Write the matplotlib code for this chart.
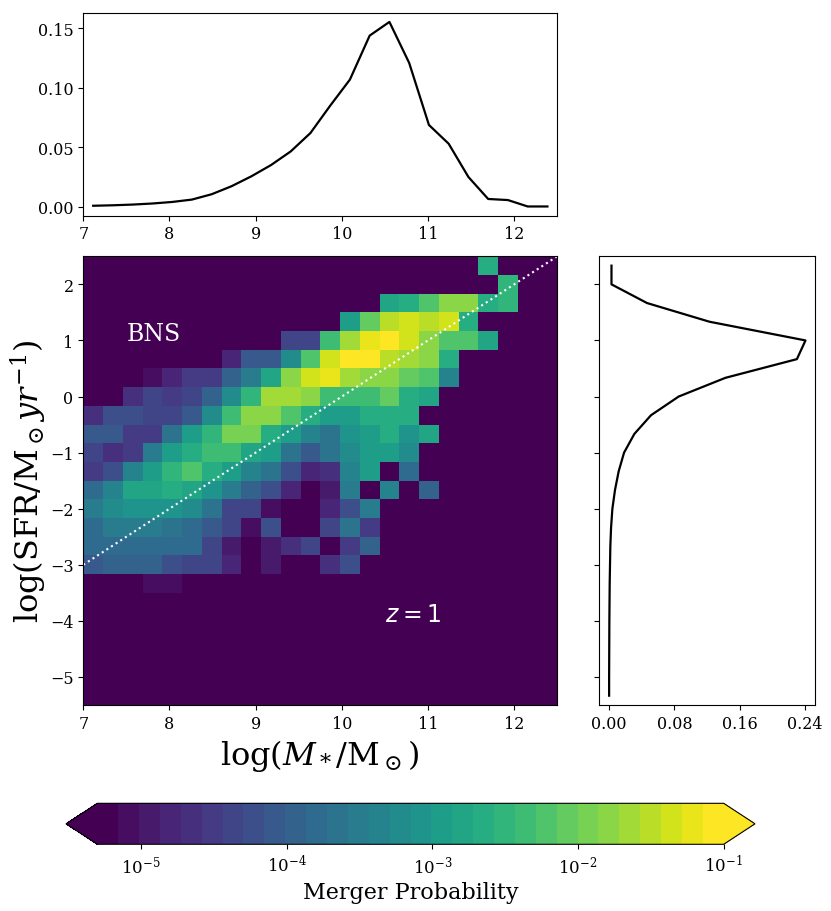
import numpy as np
import matplotlib
matplotlib.use("Agg")
import matplotlib.pyplot as plt
from matplotlib.colors import LogNorm
from matplotlib.ticker import MultipleLocator, FormatStrFormatter

plt.rcParams['font.family'] = ['DejaVu Serif']
plt.rcParams['mathtext.fontset'] = 'dejavuserif'

# ---- data -------------------------------------------------------------
mass_edges = np.linspace(7.0, 12.5, 25)      # log(M*/Msun) bin edges
sfr_edges = np.linspace(2.5, -5.5, 25)       # log(SFR) bin edges (top -> bottom)

N = np.nan
# log10(merger probability); rows from top (high SFR) to bottom, 24 mass columns
log_prob = np.array([
 [N,N,N,N,N,N,N,N,N,N,N,N,N,N,N,N,N,N,N,N,-2.68,N,N,N],
 [N,N,N,N,N,N,N,N,N,N,N,N,N,N,N,N,N,N,N,N,N,-2.46,N,N],
 [N,N,N,N,N,N,N,N,N,N,N,N,N,N,N,-2.85,-2.72,-2.29,-1.73,-1.73,-2.68,-2.46,N,N],
 [N,N,N,N,N,N,N,N,N,N,N,N,N,-2.89,-2.08,-1.56,-1.43,-1.56,-1.39,-2.59,N,N,N,N],
 [N,N,N,N,N,N,N,N,N,N,-4.36,-4.36,-2.38,-1.60,-1.17,-0.98,-1.30,-1.73,-2.25,-2.29,-2.81,N,N,N],
 [N,N,N,N,N,N,N,-4.74,-4.15,-4.05,-3.20,-2.29,-1.30,-1.13,-1.13,-1.47,-1.60,-1.86,-2.59,N,N,N,N,N],
 [N,N,N,-5.13,-4.87,-4.57,-4.57,-3.88,-3.58,-2.81,-1.86,-1.39,-1.26,-1.69,-1.86,-1.86,-2.08,-2.25,-3.41,N,N,N,N,N],
 [N,N,-4.68,-4.40,-4.55,-4.33,-4.01,-3.28,-2.55,-1.65,-1.60,-1.77,-2.38,-2.38,-2.38,-2.08,-2.59,-2.85,N,N,N,N,N,N],
 [-4.66,-4.28,-4.28,-4.31,-4.36,-4.10,-3.28,-2.33,-1.86,-1.73,-2.25,-2.72,-2.89,-2.89,-2.59,-2.59,-2.68,N,N,N,N,N,N,N],
 [-4.15,-4.15,-4.48,-4.48,-3.71,-2.98,-2.46,-1.95,-1.95,-2.59,-2.89,-3.40,-3.71,-3.15,-2.89,-2.72,-3.15,-2.85,N,N,N,N,N,N],
 [-4.38,-4.66,-4.46,-3.58,-2.98,-2.72,-2.38,-2.38,-2.78,-2.94,-3.71,-4.10,-3.71,-3.28,-2.98,-2.94,-3.28,N,N,N,N,N,N,N],
 [-4.48,-4.23,-3.41,-2.89,-2.46,-2.29,-2.65,-2.96,-3.35,-3.71,-4.23,-4.83,-4.70,-3.41,-2.89,N,-3.80,N,N,N,N,N,N,N],
 [-3.80,-3.37,-2.85,-2.85,-2.59,-2.85,-3.15,-3.58,-3.97,-4.23,-4.79,N,-4.96,-3.58,N,-3.30,N,-3.92,N,N,N,N,N,N],
 [-3.58,-3.28,-3.15,-3.15,-3.15,-3.28,-3.71,-4.36,-4.36,-5.09,N,N,-4.74,-4.23,-3.58,N,N,N,N,N,N,N,N,N],
 [-3.75,-3.58,-3.58,-3.58,-3.71,-3.84,-4.05,-4.40,-5.13,-4.23,N,N,-4.40,-3.71,-4.57,N,N,N,N,N,N,N,N,N],
 [-3.84,-3.75,-3.75,-3.75,-3.75,-3.84,-4.44,-4.96,N,-4.96,-4.70,-4.36,N,-4.57,-3.92,N,N,N,N,N,N,N,N,N],
 [-4.05,-3.92,-3.92,-3.92,-4.23,-4.40,-4.44,-4.74,N,-5.00,N,N,-4.61,-4.23,N,N,N,N,N,N,N,N,N,N],
 [N,N,N,-5.04,-5.04,N,N,N,N,N,N,N,N,N,N,N,N,N,N,N,N,N,N,N],
 [N]*24, [N]*24, [N]*24, [N]*24, [N]*24, [N]*24,
])

# marginal along stellar mass (at mass bin centres)
mass_marginal = [0.0008, 0.0012, 0.0018, 0.0027, 0.0040, 0.0060, 0.0105, 0.0172,
                 0.0255, 0.0350, 0.0465, 0.0620, 0.0850, 0.1070, 0.1440, 0.1555,
                 0.1210, 0.0688, 0.0530, 0.0250, 0.0065, 0.0056, 0.0002, 0.0002]
# marginal along SFR (at SFR bin centres, top -> bottom)
sfr_marginal = [0.0030, 0.0030, 0.0465, 0.1230, 0.2405, 0.2300, 0.1425, 0.0853,
                0.0514, 0.0310, 0.0184, 0.0118, 0.0073, 0.0041, 0.0025, 0.0016,
                0.0012, 0.0008, 0.0006, 0.0004, 0.0003, 0.0002, 0.0001, 0.0001]

cbar_ticks = [1e-5, 1e-4, 1e-3, 1e-2, 1e-1]
vmin, vmax = 5e-6, 1e-1
n_levels = 30

# ---- figure -----------------------------------------------------------
W, H = 831, 912
fig = plt.figure(figsize=(W / 100, H / 100), dpi=100)

def ax_px(x0, x1, y0, y1):
    return fig.add_axes([x0 / W, 1 - y1 / H, (x1 - x0) / W, (y1 - y0) / H])

ax_top = ax_px(83.3, 557.3, 13.7, 216.7)
ax_main = ax_px(83.3, 557.3, 257.3, 706.0)
ax_right = ax_px(599.3, 815.3, 257.3, 706.0)
cax = ax_px(66.0, 755.0, 804.3, 845.3)

cmap = plt.get_cmap('viridis', n_levels)
norm = LogNorm(vmin=vmin, vmax=vmax)

prob = 10.0 ** log_prob
ax_main.set_facecolor(cmap(0))
mesh = ax_main.pcolormesh(mass_edges, sfr_edges, np.ma.masked_invalid(prob),
                          cmap=cmap, norm=norm, shading='flat')
xl = np.array([7.0, 12.5])
ax_main.plot(xl, xl - 10.0, color='white', ls=':', lw=1.5)
ax_main.set_xlim(7, 12.5)
ax_main.set_ylim(-5.5, 2.5)
ax_main.yaxis.set_major_locator(MultipleLocator(1))
ax_main.xaxis.set_major_locator(MultipleLocator(1))
ax_main.text(7.5, 1.0, 'BNS', color='white', fontsize=17)
ax_main.text(10.5, -4.0, r'$z = 1$', color='white', fontsize=17,
             math_fontfamily='dejavusans')
ax_main.set_xlabel(r'$\log(M_*/\mathrm{M}_\odot)$', fontsize=23)
ax_main.set_ylabel(r'$\log(\mathrm{SFR}/\mathrm{M}_\odot yr^{-1})$', fontsize=23,
                   labelpad=1)

mass_c = 0.5 * (mass_edges[:-1] + mass_edges[1:])
sfr_c = 0.5 * (sfr_edges[:-1] + sfr_edges[1:])

ax_top.plot(mass_c, mass_marginal, color='black', lw=1.6)
ax_top.set_xlim(7, 12.5)
ax_top.set_yticks([0.0, 0.05, 0.10, 0.15])
ax_top.yaxis.set_major_formatter(FormatStrFormatter('%.2f'))

ax_right.plot(sfr_marginal, sfr_c, color='black', lw=1.6)
ax_right.set_ylim(-5.5, 2.5)
ax_right.yaxis.set_major_locator(MultipleLocator(1))
ax_right.set_yticklabels([])
ax_right.set_xticks([0.0, 0.08, 0.16, 0.24])
ax_right.xaxis.set_major_formatter(FormatStrFormatter('%.2f'))

for a in (ax_top, ax_main, ax_right):
    a.tick_params(labelsize=11.5)

cb = fig.colorbar(mesh, cax=cax, orientation='horizontal', extend='both')
cb.set_ticks(cbar_ticks)
cb.minorticks_off()
cb.ax.tick_params(labelsize=12)
cb.set_label('Merger Probability', fontsize=16)

fig.savefig('out.png', dpi=100)
